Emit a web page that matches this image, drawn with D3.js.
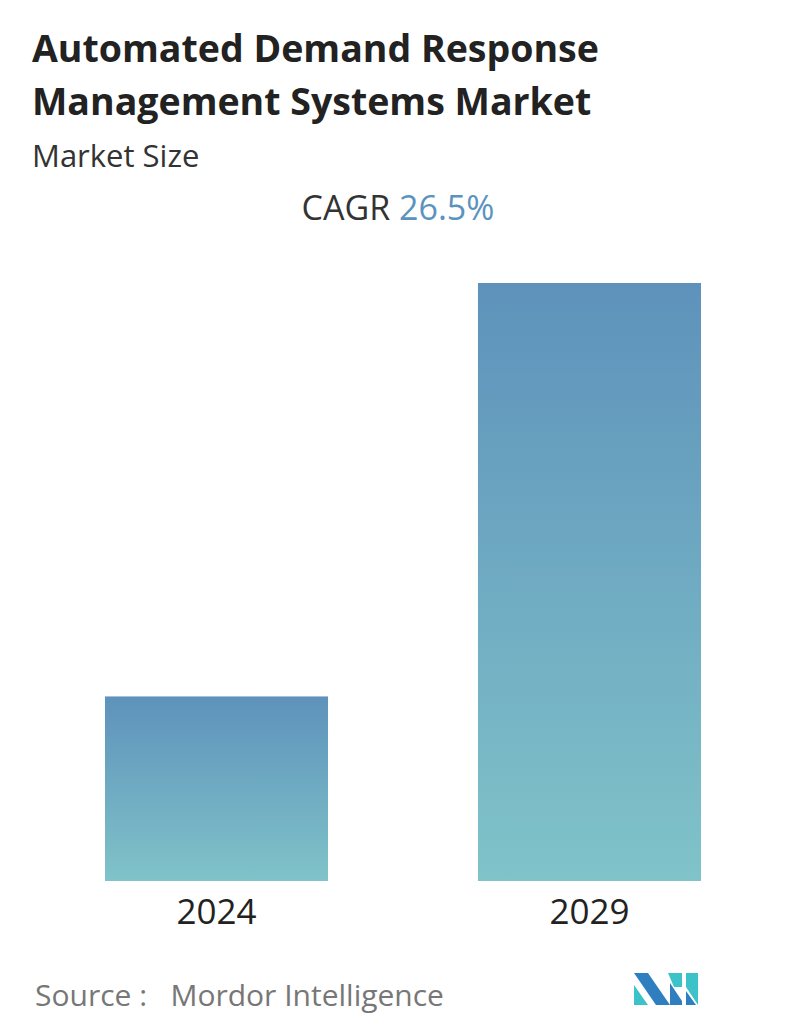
<!DOCTYPE html><html><head><meta charset="utf-8"><script src="https://cdn.jsdelivr.net/npm/d3@7/dist/d3.min.js"></script>
<style>body{margin:0;background:#fff}svg{display:block}</style></head><body><svg id="c" width="796" height="1034"></svg>
<script>
const categories=["2024","2029"];
const values=[1,3.24];
const svg=d3.select("#c");
const F="'Open Sans',sans-serif";
const defs=svg.append("defs");
const g=defs.append("linearGradient").attr("id","gr").attr("x1",0).attr("y1",0).attr("x2",0).attr("y2",1);
g.append("stop").attr("offset","0").attr("stop-color","#5e92bb");
g.append("stop").attr("offset","1").attr("stop-color","#80c3c9");
svg.append("text").attr("x",32).attr("y",62).attr("font-family",F).attr("font-weight",700).attr("font-size",37.5).attr("fill","#222").text("Automated Demand Response");
svg.append("text").attr("x",32).attr("y",115).attr("font-family",F).attr("font-weight",700).attr("font-size",37.5).attr("fill","#222").text("Management Systems Market");
svg.append("text").attr("x",32).attr("y",167).attr("font-family",F).attr("font-size",31).attr("fill","#333").text("Market Size");
const t=svg.append("text").attr("x",398).attr("y",220).attr("text-anchor","middle").attr("font-family",F).attr("font-size",34);
t.append("tspan").attr("fill","#333").text("CAGR ");
t.append("tspan").attr("fill","#5b93c0").text("26.5%");
const x=d3.scaleBand().domain(categories).range([105,701]).paddingInner(0.402).paddingOuter(0);
const y=d3.scaleLinear().domain([0,3.24]).range([881,283]);
svg.selectAll("rect.b").data(values).join("rect").attr("class","b").attr("x",(d,i)=>x(categories[i])).attr("width",x.bandwidth()).attr("y",d=>y(d)).attr("height",d=>881-y(d)).attr("fill","url(#gr)");
const ax=svg.append("g").attr("transform","translate(0,881)").call(d3.axisBottom(x).tickSize(0).tickPadding(18));
ax.select(".domain").remove();
ax.selectAll("text").attr("font-family",F).attr("font-size",35).attr("fill","#222");
svg.append("text").attr("x",35).attr("y",1006).attr("font-family",F).attr("font-size",30).attr("fill","#777").style("white-space","pre").text("Source :   Mordor Intelligence");
const L=svg.append("g").attr("transform","translate(634,973)");
L.append("polygon").attr("points","0,0 14,0 36,32 22,32").attr("fill","#2f7fc0");
L.append("polygon").attr("points","0,12 0,32 14,32").attr("fill","#3cc2c9");
L.append("polygon").attr("points","34,0 48,0 48,14 40,14").attr("fill","#3cc2c9");
L.append("polygon").attr("points","36,10 48,28 48,32 36,32").attr("fill","#2f7fc0");
L.append("polygon").attr("points","52,0 64,0 64,32 52,14").attr("fill","#3cc2c9");
L.append("polygon").attr("points","52,18 62,32 52,32").attr("fill","#2f7fc0");
</script></body></html>
